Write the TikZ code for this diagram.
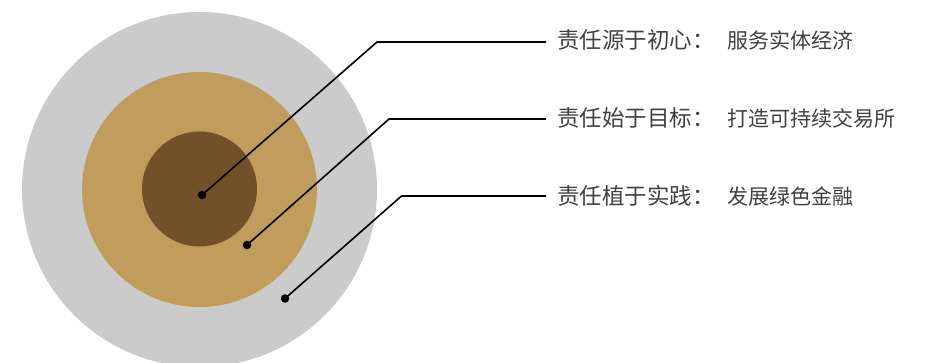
\documentclass[tikz,border=0pt]{standalone}
\usepackage{fontspec}
\newfontfamily\cjk{Noto Sans CJK SC}
\definecolor{outerc}{RGB}{202,203,202}
\definecolor{midc}{RGB}{192,157,92}
\definecolor{innerc}{RGB}{114,80,40}
\definecolor{txtc}{RGB}{64,64,64}
\tikzset{
  ring/.style={circle, inner sep=0pt, draw=none},
  dotp/.style={circle, fill=black, inner sep=0pt, minimum size=8.5pt},
  leader/.style={draw=black, line width=1.6pt},
  lbl/.style={anchor=west, inner sep=0pt, text=txtc, font=\cjk\fontsize{22.5pt}{26pt}\selectfont},
  desc/.style={anchor=west, inner sep=0pt, text=txtc, font=\cjk\fontsize{21pt}{24pt}\selectfont}
}
\begin{document}
\begin{tikzpicture}[x=1pt,y=-1pt]
\useasboundingbox (0,0) rectangle (925,363);
\node[ring, fill=outerc, minimum size=355pt] (outer) at (199.5,189.5) {};
\node[ring, fill=midc, minimum size=235pt] (mid) at (199.5,189.5) {};
\node[ring, fill=innerc, minimum size=115pt] (inner) at (199.5,189) {};
\node[dotp] (d1) at (202,195) {};
\node[dotp] (d2) at (247,245) {};
\node[dotp] (d3) at (285,298.5) {};
\coordinate (c1) at (377,42);
\coordinate (c2) at (389,119);
\coordinate (c3) at (401.5,196);
\coordinate (e1) at (546,42);
\coordinate (e2) at (546,119);
\coordinate (e3) at (546,196);
\draw[leader] (d1.center) -- (c1) -- (e1);
\draw[leader] (d2.center) -- (c2) -- (e2);
\draw[leader] (d3.center) -- (c3) -- (e3);
\node[lbl] (t1) at (557,40) {责任源于初心：};
\node[lbl] (t2) at (557,118) {责任始于目标：};
\node[lbl] (t3) at (557,196) {责任植于实践：};
\node[desc] (s1) at (727,40.5) {服务实体经济};
\node[desc] (s2) at (727,118.5) {打造可持续交易所};
\node[desc] (s3) at (727,196.5) {发展绿色金融};
\end{tikzpicture}
\end{document}
